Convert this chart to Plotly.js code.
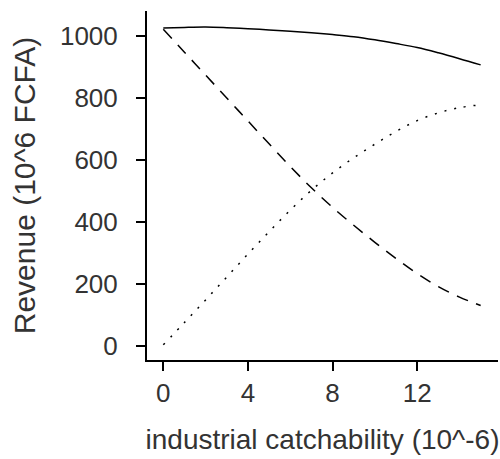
<!DOCTYPE html>
<html>
<head>
<meta charset="utf-8">
<script src="https://cdn.plot.ly/plotly-3.0.1.min.js"></script>
<style>html,body{margin:0;padding:0;background:#fff;}#chart{width:500px;height:459px;}</style>
</head>
<body>
<div id="chart"></div>
<script>
// industrial catchability (10^-6)
const catchability = [0, 1, 2, 3, 4, 5, 6, 7, 8, 9, 10, 11, 12, 13, 14, 15];
// total revenue (solid)
const revenueTotal = [1026, 1028, 1029, 1027, 1024, 1020, 1016, 1011, 1005, 998, 988, 976, 963, 946, 927, 907];
// decreasing component (dashed)
const revenueDashed = [1022, 948, 874, 800, 726, 652, 579, 510, 447, 389, 334, 282, 233, 191, 157, 130];
// increasing component (dotted)
const revenueDotted = [3, 75, 148, 222, 296, 368, 438, 502, 558, 607, 651, 692, 727, 752, 769, 778];
const xTicks = [0, 4, 8, 12];
const yTicks = [0, 200, 400, 600, 800, 1000];

const traces = [
  {x: catchability, y: revenueTotal, mode: 'lines', line: {color: '#000', width: 1.5, shape: 'spline', smoothing: 1}},
  {x: catchability, y: revenueDashed, mode: 'lines', line: {color: '#000', width: 1.5, dash: '12px,9px', shape: 'spline', smoothing: 1}},
  {x: catchability, y: revenueDotted, mode: 'lines', line: {color: '#000', width: 1.5, dash: '2px,8px', shape: 'spline', smoothing: 1}}
];

const fam = 'Liberation Sans, Arial, sans-serif';
const tickFont = {family: fam, size: 26, color: '#333'};

const layout = {
  width: 500, height: 459,
  margin: {l: 147, r: 2, t: 11, b: 99},
  showlegend: false,
  paper_bgcolor: '#fff', plot_bgcolor: '#fff',
  xaxis: {
    range: [-0.77, 15.82], tickvals: xTicks, ticktext: xTicks.map(String),
    showgrid: false, zeroline: false, showline: true, linecolor: '#000', linewidth: 2,
    ticks: 'outside', ticklen: 9, tickwidth: 2, tickcolor: '#000',
    tickfont: tickFont, ticklabelstandoff: 0,
    title: {text: 'industrial catchability (10^-6)', font: {family: fam, size: 28, color: '#333'}, standoff: 22}
  },
  yaxis: {
    range: [-46, 1081], tickvals: yTicks, ticktext: yTicks.map(String),
    showgrid: false, zeroline: false, showline: true, linecolor: '#000', linewidth: 2,
    ticks: 'outside', ticklen: 9, tickwidth: 2, tickcolor: '#000',
    tickfont: tickFont, ticklabelstandoff: 13,
    title: {text: 'Revenue (10^6 FCFA)', font: {family: fam, size: 30, color: '#333'}, standoff: 15}
  }
};

Plotly.newPlot('chart', traces, layout, {staticPlot: true, displayModeBar: false});
</script>
</body>
</html>
